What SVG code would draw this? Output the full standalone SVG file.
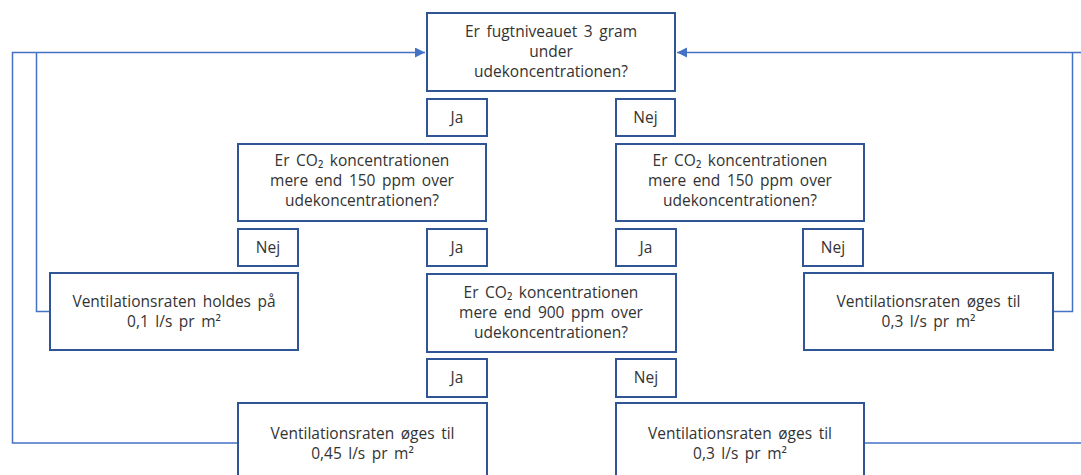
<svg xmlns="http://www.w3.org/2000/svg" width="1081" height="475" viewBox="0 0 1081 475">
<defs>
<style>
.box{fill:#fff;stroke:#2F5597;stroke-width:2}
.ln{fill:none;stroke:#4472C4;stroke-width:1.5}
text{font-family:"Open Sans","Noto Sans","DejaVu Sans",sans-serif;font-size:15.5px;word-spacing:2.5px;fill:#333;text-anchor:middle}
</style>
<marker id="arr" markerUnits="userSpaceOnUse" markerWidth="12" markerHeight="12" refX="10" refY="5" orient="auto">
<path d="M0,0 L10,5 L0,10 Z" fill="#4472C4"/>
</marker>
</defs>
<rect width="1081" height="475" fill="#fff"/>
<g id="connectors">
<path class="ln" d="M238 443 H12.5 V52.5 H425" marker-end="url(#arr)"/>
<path class="ln" d="M50 311.5 H36.5 V52.5"/>
<path class="ln" d="M1053 311.5 H1072.5 V52.5"/>
<path class="ln" d="M1082 52.5 H677" marker-end="url(#arr)"/>
<path class="ln" d="M864 443 H1082"/>
</g>
<g id="q1">
<rect class="box" x="427" y="13" width="248" height="78"/>
<text x="551" y="37">Er fugtniveauet 3 gram</text>
<text x="551" y="57">under</text>
<text x="551" y="77">udekoncentrationen?</text>
</g>
<g id="l-ja1"><rect class="box" x="427" y="99" width="60" height="37"/><text x="457" y="123">Ja</text></g>
<g id="l-nej1"><rect class="box" x="616" y="99" width="59" height="37"/><text x="645.5" y="123">Nej</text></g>
<g id="q2">
<rect class="box" x="238" y="144" width="248" height="77"/>
<text x="362" y="166">Er CO₂ koncentrationen</text>
<text x="362" y="186">mere end 150 ppm over</text>
<text x="362" y="206">udekoncentrationen?</text>
</g>
<g id="q3">
<rect class="box" x="616" y="144" width="248" height="77"/>
<text x="740" y="166">Er CO₂ koncentrationen</text>
<text x="740" y="186">mere end 150 ppm over</text>
<text x="740" y="206">udekoncentrationen?</text>
</g>
<g id="l-nej2"><rect class="box" x="238" y="229" width="60" height="37"/><text x="268" y="253">Nej</text></g>
<g id="l-ja2"><rect class="box" x="427" y="229" width="60" height="37"/><text x="457" y="253">Ja</text></g>
<g id="l-ja3"><rect class="box" x="616" y="229" width="60" height="37"/><text x="646" y="253">Ja</text></g>
<g id="l-nej3"><rect class="box" x="803" y="229" width="60" height="37"/><text x="833" y="253">Nej</text></g>
<g id="r1">
<rect class="box" x="50" y="273" width="248" height="77"/>
<text x="174" y="307">Ventilationsraten holdes på</text>
<text x="174" y="327">0,1 l/s pr m²</text>
</g>
<g id="q4">
<rect class="box" x="427" y="274" width="249" height="78"/>
<text x="551" y="298">Er CO₂ koncentrationen</text>
<text x="551" y="318">mere end 900 ppm over</text>
<text x="551" y="338">udekoncentrationen?</text>
</g>
<g id="r2">
<rect class="box" x="804" y="273" width="249" height="77"/>
<text x="928.5" y="307">Ventilationsraten øges til</text>
<text x="928.5" y="327">0,3 l/s pr m²</text>
</g>
<g id="l-ja4"><rect class="box" x="427" y="359" width="60" height="38"/><text x="457" y="383">Ja</text></g>
<g id="l-nej4"><rect class="box" x="616" y="359" width="60" height="38"/><text x="646" y="383">Nej</text></g>
<g id="r3">
<rect class="box" x="238" y="403" width="249" height="90"/>
<text x="362.5" y="439">Ventilationsraten øges til</text>
<text x="362.5" y="459">0,45 l/s pr m²</text>
</g>
<g id="r4">
<rect class="box" x="616" y="403" width="248" height="90"/>
<text x="740" y="439">Ventilationsraten øges til</text>
<text x="740" y="459">0,3 l/s pr m²</text>
</g>
</svg>
